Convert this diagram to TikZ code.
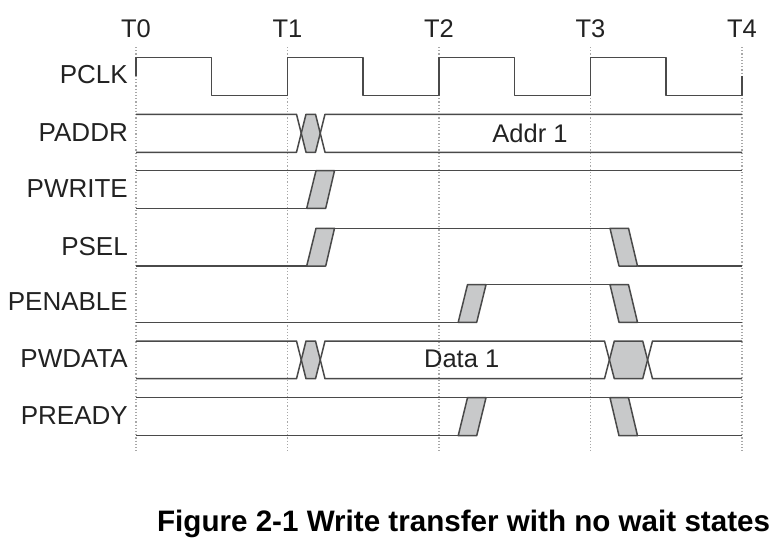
\documentclass[tikz,border=0pt]{standalone}
\usepackage{fontspec}
\setmainfont{Liberation Sans}
\definecolor{sigc}{HTML}{4A4A4A}
\definecolor{gfill}{HTML}{C8C9CA}
\definecolor{dotc}{HTML}{A8A8A8}
\definecolor{txt}{HTML}{222222}
\begin{document}
\begin{tikzpicture}[x=1pt,y=-1pt,
  sig/.style={draw=sigc, line width=1.5pt, line join=round},
  trans/.style={sig, fill=gfill},
  tline/.style={draw=dotc, line width=1.1pt, dash pattern=on 1.2pt off 2pt},
  lbl/.style={font=\fontsize{26}{30}\selectfont, text=txt, inner sep=0pt, text depth=0pt, anchor=east},
  tlbl/.style={font=\fontsize{25.5}{30}\selectfont, text=txt, inner sep=0pt, text depth=0pt},
  val/.style={font=\fontsize{25.5}{30}\selectfont, text=txt, inner sep=0pt, text depth=0pt},
  captxt/.style={font=\fontsize{29.6}{34}\selectfont\bfseries, text=black, inner sep=0pt, anchor=base}]
\useasboundingbox (0,0) rectangle (778,552);

% time markers
\foreach \t/\n in {136/0,287.5/1,439/2,590.5/3,742/4}{
  \coordinate (top\n) at (\t,47);
  \coordinate (bot\n) at (\t,453);
  \draw[tline] (top\n) -- (bot\n);
  \node[tlbl] (T\n) at (\t,29) {T\n};
}

% labels
\node[lbl] (lpclk) at (128,74) {PCLK};
\node[lbl] (lpaddr) at (128,133) {PADDR};
\node[lbl] (lpwrite) at (128,188.5) {PWRITE};
\node[lbl] (lpsel) at (128,246) {PSEL};
\node[lbl] (lpenable) at (128,302) {PENABLE};
\node[lbl] (lpwdata) at (128,358.5) {PWDATA};
\node[lbl] (lpready) at (128,416) {PREADY};

% PCLK
\draw[sig] (136,76) -- (136,57.7) -- (211.7,57.7) -- (211.7,95.7) -- (287.5,95.7)
  -- (287.5,57.7) -- (363.2,57.7) -- (363.2,95.7) -- (439,95.7) -- (439,57.7)
  -- (514.7,57.7) -- (514.7,95.7) -- (590.5,95.7) -- (590.5,57.7) -- (666.2,57.7)
  -- (666.2,95.7) -- (742,95.7) -- (742,76);

% PADDR
\fill[gfill] (301.25,133.3) -- (306,114.3) -- (315.5,114.3) -- (320.25,133.3) -- (315.5,152.3) -- (306,152.3) -- cycle;
\draw[sig] (136,114.3) -- (296.5,114.3) -- (306,152.3) -- (315.5,152.3) -- (325,114.3) -- (742,114.3);
\draw[sig] (136,152.3) -- (296.5,152.3) -- (306,114.3) -- (315.5,114.3) -- (325,152.3) -- (742,152.3);
\node[val] (addr) at (530,133.3) {Addr 1};

% PWRITE
\draw[sig] (136,170.7) -- (742,170.7);
\draw[sig] (136,208.3) -- (306.7,208.3);
\draw[trans] (306.7,208.3) -- (316,170.7) -- (334.5,170.7) -- (325.7,208.3) -- cycle;

% PSEL
\draw[sig] (136,266) -- (306.7,266);
\draw[trans] (306.7,266) -- (316,228.3) -- (334.5,228.3) -- (325.7,266) -- cycle;
\draw[sig] (334.5,228.3) -- (610,228.3);
\draw[trans] (610,228.3) -- (628.5,228.3) -- (637.5,266) -- (619,266) -- cycle;
\draw[sig] (637.5,266) -- (742,266);

% PENABLE
\draw[sig] (136,322.3) -- (458.2,322.3);
\draw[trans] (458.2,322.3) -- (467.5,284.7) -- (486,284.7) -- (476.7,322.3) -- cycle;
\draw[sig] (486,284.7) -- (610,284.7);
\draw[trans] (610,284.7) -- (628.5,284.7) -- (637.5,322.3) -- (619,322.3) -- cycle;
\draw[sig] (637.5,322.3) -- (742,322.3);

% PWDATA
\fill[gfill] (301.25,359.85) -- (306,341) -- (315.5,341) -- (320.25,359.85) -- (315.5,378.7) -- (306,378.7) -- cycle;
\fill[gfill] (609.4,359.85) -- (614.3,341) -- (642.7,341) -- (647.6,359.85) -- (642.7,378.7) -- (614.3,378.7) -- cycle;
\draw[sig] (136,341) -- (296.5,341) -- (306,378.7) -- (315.5,378.7) -- (325,341) -- (604.5,341)
  -- (614.3,378.7) -- (642.7,378.7) -- (652.5,341) -- (742,341);
\draw[sig] (136,378.7) -- (296.5,378.7) -- (306,341) -- (315.5,341) -- (325,378.7) -- (604.5,378.7)
  -- (614.3,341) -- (642.7,341) -- (652.5,378.7) -- (742,378.7);
\node[val] (data) at (461.7,359) {Data 1};

% PREADY
\draw[sig] (136,397.7) -- (742,397.7);
\draw[sig] (136,435.7) -- (458.2,435.7);
\draw[trans] (458.2,435.7) -- (467.5,397.7) -- (486,397.7) -- (476.7,435.7) -- cycle;
\draw[trans] (610,397.7) -- (628.5,397.7) -- (637.5,435.7) -- (619,435.7) -- cycle;
\draw[sig] (637.5,435.7) -- (742,435.7);

% caption
\node[captxt] (caption) at (463.6,531.7) {Figure 2-1 Write transfer with no wait states};
\end{tikzpicture}
\end{document}
